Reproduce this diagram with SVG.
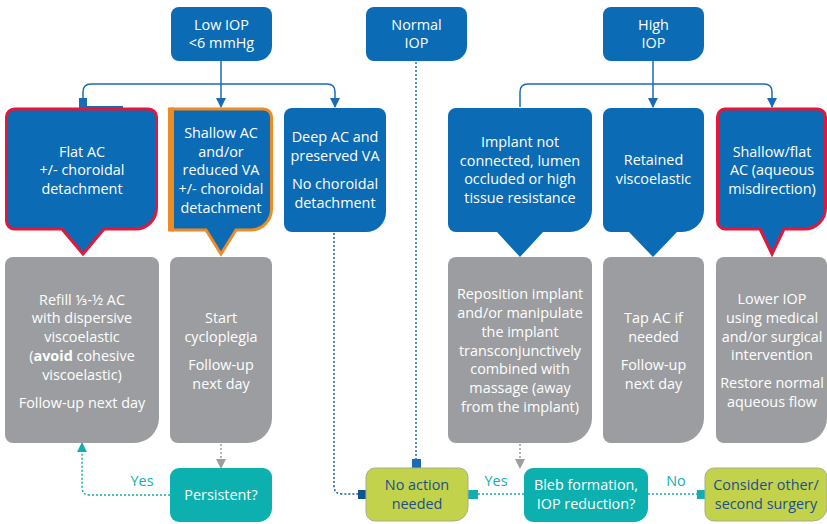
<svg xmlns="http://www.w3.org/2000/svg" width="827" height="524" viewBox="0 0 827 524">
<defs>
<style>
text{font-family:"Open Sans","Noto Sans","DejaVu Sans",sans-serif;font-size:14.4px;text-anchor:middle}
.w{fill:#ffffff}
.db{fill:#1d4e8d}
.tl{fill:#14aeb0}
.blue{fill:#0b6bb5}
.gray{fill:#9b9da0}
.teal{fill:#0cb0ae}
.lime{fill:#c3d24b;stroke:#a7ad8c;stroke-width:1}
.con{fill:none;stroke:#1a6bb5;stroke-width:1.5}
.dotb{fill:none;stroke:#1a5f9e;stroke-width:1.5;stroke-dasharray:2 2}
.dotg{fill:none;stroke:#9b9da0;stroke-width:1.5;stroke-dasharray:2 2}
.dott{fill:none;stroke:#14aeb0;stroke-width:1.5;stroke-dasharray:2 2}
</style>
<marker id="ab" viewBox="0 0 10 10" refX="9" refY="5" markerWidth="7" markerHeight="7" orient="auto" markerUnits="strokeWidth"><path d="M0,0 L10,5 L0,10 Z" fill="#1a6bb5"/></marker>
<marker id="ag" viewBox="0 0 10 10" refX="9" refY="5" markerWidth="7" markerHeight="7" orient="auto" markerUnits="strokeWidth"><path d="M0,0 L10,5 L0,10 Z" fill="#9b9da0"/></marker>
<marker id="at" viewBox="0 0 10 10" refX="9" refY="5" markerWidth="7" markerHeight="7" orient="auto" markerUnits="strokeWidth"><path d="M0,0 L10,5 L0,10 Z" fill="#14aeb0"/></marker>
</defs>

<g id="connectors">
<path class="con" d="M221,61 V107" marker-end="url(#ab)"/>
<path class="con" d="M83,100 V92 Q83,84 91,84 H327 Q335,84 335,92 V107" marker-end="url(#ab)"/>
<rect x="79" y="98" width="8" height="10" fill="#1a6bb5"/>
<rect x="79" y="106" width="44" height="3" fill="#1a6bb5"/>
<path class="con" d="M653,61 V107" marker-end="url(#ab)"/>
<path class="con" d="M520,107 V92 Q520,84 528,84 H764 Q772,84 772,92 V107" marker-end="url(#ab)"/>
<path class="dotb" d="M334,233 V486 Q334,494 342,494 H358"/>
<rect x="358" y="490" width="8" height="9" fill="#0f5690"/>
<path class="dotb" d="M416,62 V459" style="stroke:#1a6bb5"/>
<rect x="412" y="459" width="9" height="9" fill="#1a6bb5"/>
<path class="dotg" d="M221,444 V468" marker-end="url(#ag)"/>
<path class="dotg" d="M520,444 V468" marker-end="url(#ag)"/>
<path class="dott" d="M170,495 H90 Q82,495 82,487 V443" marker-end="url(#at)"/>
<path class="dott" d="M524,494 H478"/>
<rect x="468" y="490" width="10" height="9" fill="#14aeb0"/>
<path class="dott" d="M648,494 H697"/>
<rect x="697" y="490" width="8" height="9" fill="#14aeb0"/>
<text class="tl" x="142" y="486">Yes</text>
<text class="tl" x="496" y="486">Yes</text>
<text class="tl" x="676" y="486">No</text>
</g>

<g id="low-iop">
<path class="blue" d="M179,7 H264 A8,8 0 0 1 272,15 V46 A15,15 0 0 1 257,61 H179 A8,8 0 0 1 171,53 V15 A8,8 0 0 1 179,7 Z"/>
<text class="w" x="221.5" y="30">Low IOP</text>
<text class="w" x="221.5" y="48">&lt;6 mmHg</text>
</g>
<g id="normal-iop">
<path class="blue" d="M374,7 H459 A8,8 0 0 1 467,15 V46 A15,15 0 0 1 452,61 H374 A8,8 0 0 1 366,53 V15 A8,8 0 0 1 374,7 Z"/>
<text class="w" x="416.5" y="30">Normal</text>
<text class="w" x="416.5" y="48">IOP</text>
</g>
<g id="high-iop">
<path class="blue" d="M611,7 H696 A8,8 0 0 1 704,15 V46 A15,15 0 0 1 689,61 H611 A8,8 0 0 1 603,53 V15 A8,8 0 0 1 611,7 Z"/>
<text class="w" x="653.5" y="30">High</text>
<text class="w" x="653.5" y="48">IOP</text>
</g>

<g id="flat-ac">
<path class="blue" stroke="#e3173a" stroke-width="3" d="M15,109 H148 A8,8 0 0 1 156.5,117 V208 A21,21 0 0 1 135.5,229 H104 L83,254 L62,229 H15 A8,8 0 0 1 6.5,221 V117 A8,8 0 0 1 15,109 Z"/>
<text class="w" x="82" y="157">Flat AC</text>
<text class="w" x="82" y="175">+/- choroidal</text>
<text class="w" x="82" y="194">detachment</text>
</g>
<g id="shallow-ac">
<path class="blue" stroke="#f08a24" stroke-width="3" d="M172,109 H263 A8,8 0 0 1 271.5,117 V209 A21,21 0 0 1 250.5,230 H236 L221,254 L206,230 H172 Z"/>
<rect x="168" y="107.5" width="6" height="124" fill="#f08a24"/>
<text class="w" x="221" y="138">Shallow AC</text>
<text class="w" x="221" y="157">and/or</text>
<text class="w" x="221" y="175">reduced VA</text>
<text class="w" x="221" y="194">+/- choroidal</text>
<text class="w" x="221" y="213">detachment</text>
</g>
<g id="deep-ac">
<path class="blue" d="M292,108 H378 A8,8 0 0 1 386,116 V212 A20,20 0 0 1 366,232 H292 A8,8 0 0 1 284,224 V116 A8,8 0 0 1 292,108 Z"/>
<text class="w" x="335" y="142">Deep AC and</text>
<text class="w" x="335" y="161">preserved VA</text>
<text class="w" x="335" y="189">No choroidal</text>
<text class="w" x="335" y="208">detachment</text>
</g>
<g id="implant">
<path class="blue" d="M456,108 H584 A8,8 0 0 1 592,116 V210 A22,22 0 0 1 570,232 H543 L520,257 L497,232 H456 A8,8 0 0 1 448,224 V116 A8,8 0 0 1 456,108 Z"/>
<text class="w" x="520" y="147">Implant not</text>
<text class="w" x="520" y="166">connected, lumen</text>
<text class="w" x="520" y="184">occluded or high</text>
<text class="w" x="520" y="203">tissue resistance</text>
</g>
<g id="retained">
<path class="blue" d="M611,108 H696 A8,8 0 0 1 704,116 V210 A22,22 0 0 1 682,232 H677 L653,257 L629,232 H611 A8,8 0 0 1 603,224 V116 A8,8 0 0 1 611,108 Z"/>
<text class="w" x="653.5" y="165">Retained</text>
<text class="w" x="653.5" y="184">viscoelastic</text>
</g>
<g id="shallow-flat">
<path class="blue" stroke="#e3173a" stroke-width="3" d="M725,109 H817 A8,8 0 0 1 825.5,117 V208 A21,21 0 0 1 804.5,229 H784 L772,254 L760,229 H725 A8,8 0 0 1 717.5,221 V117 A8,8 0 0 1 725,109 Z"/>
<text class="w" x="772" y="157">Shallow/flat</text>
<text class="w" x="772" y="175">AC (aqueous</text>
<text class="w" x="772" y="194">misdirection)</text>
</g>

<g id="refill">
<path class="gray" d="M13,257 H151 A8,8 0 0 1 159,265 V418 A25,25 0 0 1 134,443 H13 A8,8 0 0 1 5,435 V265 A8,8 0 0 1 13,257 Z"/>
<text class="w" x="82" y="305">Refill ⅓-½ AC</text>
<text class="w" x="82" y="323">with dispersive</text>
<text class="w" x="82" y="342">viscoelastic</text>
<text class="w" x="82" y="361">(<tspan font-weight="bold">avoid</tspan> cohesive</text>
<text class="w" x="82" y="380">viscoelastic)</text>
<text class="w" x="82" y="408">Follow-up next day</text>
</g>
<g id="cycloplegia">
<path class="gray" d="M178,257 H264 A8,8 0 0 1 272,265 V418 A25,25 0 0 1 247,443 H178 A8,8 0 0 1 170,435 V265 A8,8 0 0 1 178,257 Z"/>
<text class="w" x="221" y="323">Start</text>
<text class="w" x="221" y="342">cycloplegia</text>
<text class="w" x="221" y="370">Follow-up</text>
<text class="w" x="221" y="389">next day</text>
</g>
<g id="reposition">
<path class="gray" d="M456,257 H584 A8,8 0 0 1 592,265 V418 A25,25 0 0 1 567,443 H456 A8,8 0 0 1 448,435 V265 A8,8 0 0 1 456,257 Z"/>
<text class="w" x="520" y="299">Reposition implant</text>
<text class="w" x="520" y="318">and/or manipulate</text>
<text class="w" x="520" y="337">the implant</text>
<text class="w" x="520" y="356">transconjunctively</text>
<text class="w" x="520" y="374">combined with</text>
<text class="w" x="520" y="393">massage (away</text>
<text class="w" x="520" y="412">from the implant)</text>
</g>
<g id="tap-ac">
<path class="gray" d="M611,257 H696 A8,8 0 0 1 704,265 V418 A25,25 0 0 1 679,443 H611 A8,8 0 0 1 603,435 V265 A8,8 0 0 1 611,257 Z"/>
<text class="w" x="653.5" y="323">Tap AC if</text>
<text class="w" x="653.5" y="342">needed</text>
<text class="w" x="653.5" y="370">Follow-up</text>
<text class="w" x="653.5" y="389">next day</text>
</g>
<g id="lower-iop">
<path class="gray" d="M724,257 H819 A8,8 0 0 1 827,265 V418 A25,25 0 0 1 802,443 H724 A8,8 0 0 1 716,435 V265 A8,8 0 0 1 724,257 Z"/>
<text class="w" x="772" y="304">Lower IOP</text>
<text class="w" x="772" y="323">using medical</text>
<text class="w" x="772" y="342">and/or surgical</text>
<text class="w" x="772" y="360">intervention</text>
<text class="w" x="772" y="388">Restore normal</text>
<text class="w" x="772" y="407">aqueous flow</text>
</g>

<g id="persistent">
<path class="teal" d="M179,468 H263 A9,9 0 0 1 272,477 V508 A14,14 0 0 1 258,522 H179 A9,9 0 0 1 170,513 V477 A9,9 0 0 1 179,468 Z"/>
<text class="w" x="221" y="500">Persistent?</text>
</g>
<g id="no-action">
<path class="lime" d="M375,468 H459 A9,9 0 0 1 468,477 V507 A14,14 0 0 1 454,521 H375 A9,9 0 0 1 366,512 V477 A9,9 0 0 1 375,468 Z"/>
<text class="db" x="417" y="490">No action</text>
<text class="db" x="417" y="509">needed</text>
</g>
<g id="bleb">
<path class="teal" d="M533,468 H639 A9,9 0 0 1 648,477 V508 A14,14 0 0 1 634,522 H533 A9,9 0 0 1 524,513 V477 A9,9 0 0 1 533,468 Z"/>
<text class="w" x="586" y="490">Bleb formation,</text>
<text class="w" x="586" y="509">IOP reduction?</text>
</g>
<g id="consider">
<path class="lime" d="M714,468 H818 A9,9 0 0 1 827,477 V507 A14,14 0 0 1 813,521 H714 A9,9 0 0 1 705,512 V477 A9,9 0 0 1 714,468 Z"/>
<text class="db" x="766" y="490">Consider other/</text>
<text class="db" x="766" y="509">second surgery</text>
</g>
</svg>
